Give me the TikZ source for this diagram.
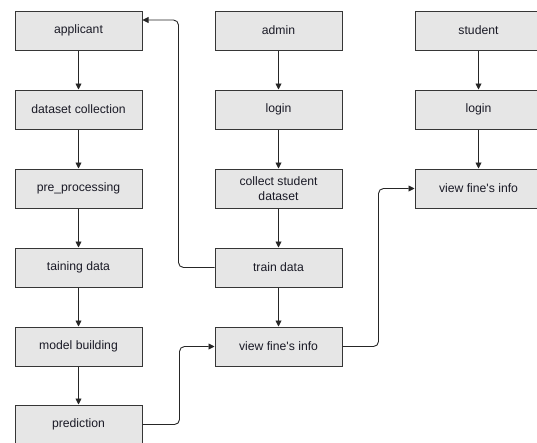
\documentclass[tikz,border=0pt]{standalone}
\usepackage{fontspec}
\setmainfont{Liberation Sans}
\usepackage{xcolor}
\usepackage{tikz}
\usetikzlibrary{arrows, arrows.meta}

\definecolor{boxfill}{HTML}{E6E6E6}
\definecolor{boxline}{HTML}{363636}
\definecolor{txt}{HTML}{1A1A26}

\begin{document}
\begin{tikzpicture}[x=1pt,y=-1pt,
  stepbox/.style={draw=boxline,fill=boxfill,line width=1pt,minimum width=127pt,
    minimum height=39pt,inner sep=1pt,align=center,text=txt,
    font=\fontsize{12.2}{15}\selectfont},
  flow/.style={-{Triangle[length=6pt,width=6pt]},line width=0.9pt,black!85}]
\useasboundingbox (0,0) rectangle (537,442);
% left column
\node[stepbox] (applicant) at (78.5,30.5)  {applicant};
\node[stepbox] (dataset)   at (78.5,109.5) {dataset collection};
\node[stepbox] (preproc)   at (78.5,188.5) {pre\_processing};
\node[stepbox] (taining)   at (78.5,267.5) {taining data};
\node[stepbox] (model)     at (78.5,346.5) {model building};
\node[stepbox] (predict)   at (78.5,424.5) {prediction};
% middle column
\node[stepbox] (admin)     at (278.5,30.5)  {admin};
\node[stepbox] (alogin)    at (278.5,109.5) {login};
\node[stepbox] (collect)   at (278.5,188.5) {collect student\\dataset};
\node[stepbox] (train)     at (278.5,267.5) {train data};
\node[stepbox] (aview)     at (278.5,346.5) {view fine\textquotesingle s info};
% right column
\node[stepbox] (student)   at (478.5,30.5)  {student};
\node[stepbox] (slogin)    at (478.5,109.5) {login};
\node[stepbox] (sview)     at (478.5,188.5) {view fine\textquotesingle s info};

\draw[flow] (applicant) -- (dataset);
\draw[flow] (dataset) -- (preproc);
\draw[flow] (preproc) -- (taining);
\draw[flow] (taining) -- (model);
\draw[flow] (model) -- (predict);
\draw[flow] (admin) -- (alogin);
\draw[flow] (alogin) -- (collect);
\draw[flow] (collect) -- (train);
\draw[flow] (train) -- (aview);
\draw[flow] (student) -- (slogin);
\draw[flow] (slogin) -- (sview);
% elbow links
\draw[flow,rounded corners=5pt] (train.west) -- ++(-36,0) |- ([yshift=10.5pt]applicant.east);
\draw[flow,rounded corners=5pt] (predict.east) -- ++(37,0) |- (aview.west);
\draw[flow,rounded corners=5pt] (aview.east) -- ++(36,0) |- (sview.west);
\end{tikzpicture}
\end{document}
